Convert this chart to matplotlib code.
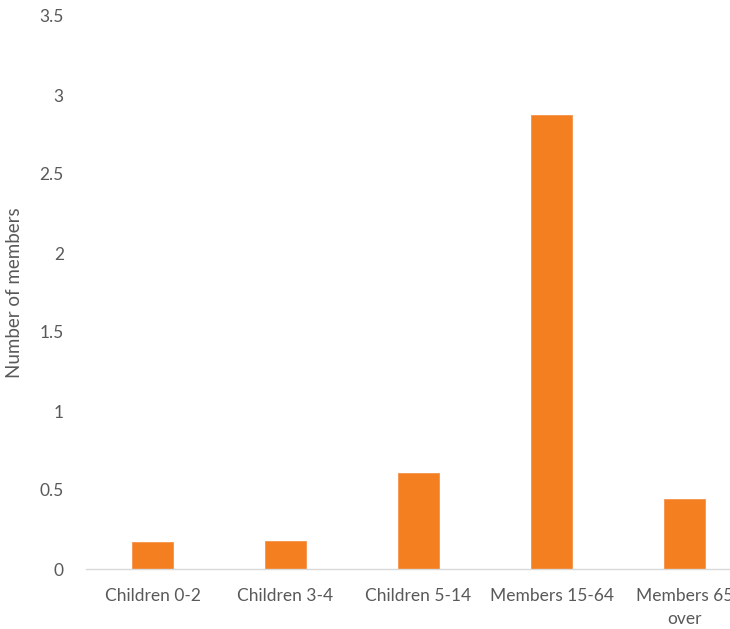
import matplotlib
matplotlib.use("Agg")
import matplotlib.pyplot as plt

categories = ["Children 0-2", "Children 3-4", "Children 5-14", "Members 15-64", "Members 65\nover"]
values = [0.17, 0.18, 0.61, 2.875, 0.44]
yticks = [0, 0.5, 1, 1.5, 2, 2.5, 3, 3.5]
ytick_labels = ["0", "0.5", "1", "1.5", "2", "2.5", "3", "3.5"]

plt.rcParams['font.family'] = ['Lato', 'DejaVu Sans']

W, H = 730, 629
fig = plt.figure(figsize=(W/100, H/100), dpi=100)
x0, x1 = 86, 751
y0, y1 = 569, 16
ax = fig.add_axes([x0/W, 1 - y0/H, (x1-x0)/W, (y0-y1)/H])

xs = list(range(len(categories)))
ax.bar(xs, values, width=0.315, color="#F47F20", edgecolor="#F5924A", linewidth=0.6)
ax.set_xlim(-0.5, len(categories) - 0.5)
ax.set_ylim(0, 3.5)
ax.set_yticks(yticks)
ax.set_yticklabels(ytick_labels)
ax.set_xticks(xs)
ax.set_xticklabels(categories, linespacing=1.5)
for s in ["top", "right", "left"]:
    ax.spines[s].set_visible(False)
ax.spines["bottom"].set_color("#D9D9D9")
ax.spines["bottom"].set_linewidth(1.0)
ax.tick_params(axis="both", length=0, colors="#595959", labelsize=12.5)
ax.tick_params(axis="y", pad=16)
ax.tick_params(axis="x", pad=14)
ax.set_ylabel("Number of members", color="#595959", fontsize=13.5)
ax.yaxis.set_label_coords(-(86-23)/(x1-x0), 0.5)

fig.savefig("out.png", dpi=100)
